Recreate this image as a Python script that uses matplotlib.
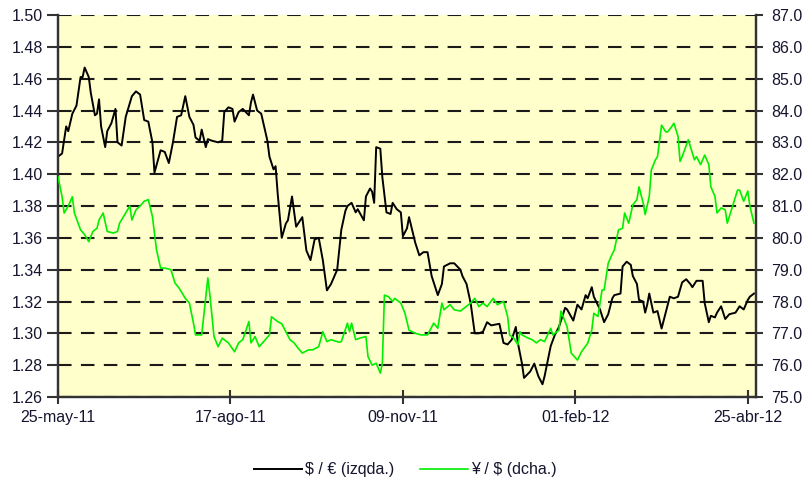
import numpy as np
import matplotlib
matplotlib.use("Agg")
import matplotlib.pyplot as plt
import matplotlib.dates as mdates
from matplotlib.ticker import FixedLocator, FormatStrFormatter, MultipleLocator

plt.rcParams['font.family'] = ['Liberation Sans', 'DejaVu Sans']

# $ / EUR (left axis)
usd_eur_dates = [
    "2011-05-25", "2011-05-27", "2011-05-29", "2011-05-30", "2011-06-01", "2011-06-03", "2011-06-05",
    "2011-06-06", "2011-06-07", "2011-06-09", "2011-06-10", "2011-06-12", "2011-06-13", "2011-06-14",
    "2011-06-15", "2011-06-17", "2011-06-18", "2011-06-20", "2011-06-22", "2011-06-23", "2011-06-25",
    "2011-06-27", "2011-06-30", "2011-07-02", "2011-07-04", "2011-07-06", "2011-07-08", "2011-07-10",
    "2011-07-11", "2011-07-14", "2011-07-16", "2011-07-18", "2011-07-20", "2011-07-22", "2011-07-24",
    "2011-07-26", "2011-07-28", "2011-07-30", "2011-07-31", "2011-08-02", "2011-08-03", "2011-08-05",
    "2011-08-06", "2011-08-08", "2011-08-11", "2011-08-13", "2011-08-14", "2011-08-16", "2011-08-18",
    "2011-08-19", "2011-08-21", "2011-08-23", "2011-08-26", "2011-08-27", "2011-08-28", "2011-08-30",
    "2011-09-01", "2011-09-04", "2011-09-05", "2011-09-07", "2011-09-08", "2011-09-09", "2011-09-11",
    "2011-09-13", "2011-09-14", "2011-09-16", "2011-09-18", "2011-09-21", "2011-09-23", "2011-09-25",
    "2011-09-27", "2011-09-29", "2011-10-01", "2011-10-03", "2011-10-05", "2011-10-08", "2011-10-10",
    "2011-10-12", "2011-10-13", "2011-10-15", "2011-10-17", "2011-10-18", "2011-10-21", "2011-10-22",
    "2011-10-24", "2011-10-25", "2011-10-26", "2011-10-27", "2011-10-29", "2011-10-30", "2011-11-01",
    "2011-11-03", "2011-11-04", "2011-11-06", "2011-11-08", "2011-11-09", "2011-11-11", "2011-11-12",
    "2011-11-15", "2011-11-17", "2011-11-19", "2011-11-21", "2011-11-23", "2011-11-26", "2011-11-28",
    "2011-11-29", "2011-12-02", "2011-12-04", "2011-12-07", "2011-12-08", "2011-12-10", "2011-12-12",
    "2011-12-14", "2011-12-16", "2011-12-18", "2011-12-20", "2011-12-22", "2011-12-26", "2011-12-28",
    "2011-12-30", "2012-01-01", "2012-01-03", "2012-01-04", "2012-01-06", "2012-01-07", "2012-01-10",
    "2012-01-12", "2012-01-14", "2012-01-16", "2012-01-17", "2012-01-20", "2012-01-22", "2012-01-24",
    "2012-01-27", "2012-01-28", "2012-01-31", "2012-02-02", "2012-02-04", "2012-02-06", "2012-02-07",
    "2012-02-09", "2012-02-10", "2012-02-13", "2012-02-15", "2012-02-17", "2012-02-19", "2012-02-20",
    "2012-02-23", "2012-02-24", "2012-02-26", "2012-02-28", "2012-02-29", "2012-03-02", "2012-03-03",
    "2012-03-05", "2012-03-06", "2012-03-07", "2012-03-08", "2012-03-10", "2012-03-12", "2012-03-14",
    "2012-03-16", "2012-03-18", "2012-03-20", "2012-03-22", "2012-03-24", "2012-03-26", "2012-03-28",
    "2012-03-29", "2012-03-31", "2012-04-03", "2012-04-04", "2012-04-06", "2012-04-07", "2012-04-09",
    "2012-04-10", "2012-04-12", "2012-04-14", "2012-04-16", "2012-04-19", "2012-04-21", "2012-04-23",
    "2012-04-25", "2012-04-26", "2012-04-28",
]
usd_eur = [
    1.411, 1.413, 1.430, 1.427, 1.438, 1.443, 1.461,
    1.461, 1.467, 1.461, 1.451, 1.437, 1.438, 1.447,
    1.430, 1.417, 1.427, 1.432, 1.441, 1.420, 1.418,
    1.436, 1.449, 1.452, 1.450, 1.434, 1.433, 1.420,
    1.401, 1.415, 1.414, 1.407, 1.420, 1.436, 1.437,
    1.449, 1.436, 1.431, 1.423, 1.421, 1.428, 1.417,
    1.422, 1.421, 1.420, 1.421, 1.439, 1.442, 1.441,
    1.433, 1.439, 1.441, 1.437, 1.445, 1.450, 1.440,
    1.438, 1.421, 1.411, 1.403, 1.405, 1.388, 1.360,
    1.369, 1.371, 1.386, 1.367, 1.373, 1.352, 1.346,
    1.359, 1.360, 1.346, 1.327, 1.331, 1.340, 1.365,
    1.377, 1.380, 1.382, 1.376, 1.378, 1.371, 1.386,
    1.391, 1.389, 1.382, 1.417, 1.416, 1.398, 1.376,
    1.375, 1.382, 1.378, 1.376, 1.361, 1.366, 1.373,
    1.357, 1.349, 1.351, 1.351, 1.336, 1.324, 1.331,
    1.342, 1.344, 1.344, 1.340, 1.336, 1.331, 1.319,
    1.300, 1.300, 1.301, 1.307, 1.305, 1.306, 1.294,
    1.293, 1.296, 1.304, 1.294, 1.281, 1.272, 1.276,
    1.281, 1.273, 1.268, 1.273, 1.292, 1.299, 1.304,
    1.316, 1.315, 1.308, 1.318, 1.315, 1.324, 1.322,
    1.329, 1.323, 1.315, 1.307, 1.312, 1.322, 1.324,
    1.325, 1.342, 1.345, 1.343, 1.336, 1.331, 1.321,
    1.320, 1.313, 1.318, 1.325, 1.313, 1.314, 1.303,
    1.313, 1.323, 1.322, 1.323, 1.332, 1.334, 1.331,
    1.329, 1.333, 1.333, 1.319, 1.307, 1.311, 1.310,
    1.313, 1.317, 1.309, 1.312, 1.313, 1.317, 1.315,
    1.321, 1.323, 1.325,
]

# JPY / $ (right axis)
jpy_usd_dates = [
    "2011-05-25", "2011-05-27", "2011-05-28", "2011-05-30", "2011-06-01", "2011-06-02", "2011-06-05",
    "2011-06-07", "2011-06-09", "2011-06-11", "2011-06-13", "2011-06-14", "2011-06-16", "2011-06-18",
    "2011-06-21", "2011-06-23", "2011-06-24", "2011-06-27", "2011-06-29", "2011-06-30", "2011-07-02",
    "2011-07-04", "2011-07-06", "2011-07-08", "2011-07-10", "2011-07-12", "2011-07-14", "2011-07-16",
    "2011-07-19", "2011-07-21", "2011-07-23", "2011-07-26", "2011-07-28", "2011-07-30", "2011-07-31",
    "2011-08-03", "2011-08-06", "2011-08-07", "2011-08-09", "2011-08-11", "2011-08-13", "2011-08-16",
    "2011-08-19", "2011-08-21", "2011-08-23", "2011-08-26", "2011-08-27", "2011-08-29", "2011-08-31",
    "2011-09-03", "2011-09-05", "2011-09-06", "2011-09-09", "2011-09-11", "2011-09-13", "2011-09-15",
    "2011-09-17", "2011-09-19", "2011-09-21", "2011-09-24", "2011-09-26", "2011-09-29", "2011-10-01",
    "2011-10-03", "2011-10-05", "2011-10-09", "2011-10-10", "2011-10-13", "2011-10-14", "2011-10-15",
    "2011-10-17", "2011-10-19", "2011-10-22", "2011-10-23", "2011-10-25", "2011-10-27", "2011-10-29",
    "2011-10-30", "2011-10-31", "2011-11-02", "2011-11-04", "2011-11-05", "2011-11-08", "2011-11-10",
    "2011-11-12", "2011-11-15", "2011-11-18", "2011-11-21", "2011-11-24", "2011-11-26", "2011-11-28",
    "2011-11-29", "2011-12-02", "2011-12-04", "2011-12-07", "2011-12-09", "2011-12-12", "2011-12-14",
    "2011-12-16", "2011-12-18", "2011-12-20", "2011-12-23", "2011-12-25", "2011-12-28", "2011-12-30",
    "2011-12-31", "2012-01-02", "2012-01-04", "2012-01-05", "2012-01-06", "2012-01-09", "2012-01-11",
    "2012-01-13", "2012-01-15", "2012-01-17", "2012-01-20", "2012-01-21", "2012-01-24", "2012-01-25",
    "2012-01-28", "2012-01-30", "2012-02-02", "2012-02-04", "2012-02-07", "2012-02-09", "2012-02-10",
    "2012-02-12", "2012-02-14", "2012-02-15", "2012-02-17", "2012-02-19", "2012-02-20", "2012-02-22",
    "2012-02-24", "2012-02-25", "2012-02-27", "2012-02-29", "2012-03-02", "2012-03-03", "2012-03-05",
    "2012-03-06", "2012-03-08", "2012-03-09", "2012-03-11", "2012-03-12", "2012-03-14", "2012-03-16",
    "2012-03-17", "2012-03-19", "2012-03-20", "2012-03-22", "2012-03-23", "2012-03-24", "2012-03-27",
    "2012-03-28", "2012-03-30", "2012-03-31", "2012-04-02", "2012-04-04", "2012-04-06", "2012-04-07",
    "2012-04-09", "2012-04-10", "2012-04-12", "2012-04-14", "2012-04-15", "2012-04-17", "2012-04-20",
    "2012-04-21", "2012-04-23", "2012-04-25", "2012-04-26", "2012-04-28",
]
jpy_usd = [
    81.92, 81.29, 80.78, 81.00, 81.29, 80.78, 80.25,
    80.10, 79.88, 80.20, 80.30, 80.56, 80.78, 80.20,
    80.15, 80.20, 80.46, 80.78, 81.00, 80.56, 80.88,
    81.00, 81.15, 81.20, 80.67, 79.62, 79.05, 79.05,
    79.00, 78.58, 78.42, 78.10, 77.95, 77.32, 76.95,
    76.95, 78.74, 78.20, 76.90, 76.58, 76.85, 76.70,
    76.42, 76.70, 76.80, 77.37, 76.70, 76.90, 76.58,
    76.80, 76.95, 77.52, 77.37, 77.30, 77.05, 76.80,
    76.70, 76.53, 76.38, 76.48, 76.48, 76.58, 77.05,
    76.74, 76.80, 76.72, 76.74, 77.32, 77.05, 77.32,
    76.80, 76.85, 76.90, 76.27, 76.00, 76.06, 75.75,
    76.06, 78.20, 78.15, 78.00, 78.10, 77.95, 77.63,
    77.10, 77.00, 76.95, 76.95, 77.32, 77.16, 77.95,
    77.74, 77.90, 77.74, 77.70, 77.80, 77.95, 78.10,
    77.84, 77.95, 77.84, 78.10, 77.90, 78.00, 77.53,
    76.95, 76.85, 76.64, 77.05, 76.95, 76.85, 76.80,
    76.70, 76.80, 76.74, 77.16, 76.95, 77.10, 77.70,
    77.20, 76.38, 76.16, 76.42, 76.69, 77.10, 77.63,
    77.53, 78.36, 78.36, 79.20, 79.50, 79.62, 80.25,
    80.30, 80.78, 80.46, 81.04, 81.20, 81.60, 81.10,
    80.73, 81.30, 82.13, 82.45, 82.55, 83.54, 83.33,
    83.33, 83.50, 83.60, 83.19, 82.40, 82.55, 83.08,
    82.87, 82.45, 82.55, 82.30, 82.60, 82.30, 81.60,
    81.30, 80.78, 80.94, 80.88, 80.46, 80.88, 81.50,
    81.50, 81.15, 81.47, 81.00, 80.46,
]

tick_dates = ["2011-05-25", "2011-08-17", "2011-11-09", "2012-02-01", "2012-04-25"]
tick_labels = ["25-may-11", "17-ago-11", "09-nov-11", "01-feb-12", "25-abr-12"]

text_color = "#15152e"

fig = plt.figure(figsize=(8.03, 4.87), dpi=100)
ax = fig.add_axes([0.0722, 0.1848, 0.8693, 0.7844])
ax.set_facecolor("#FFFFCC")

x1 = mdates.date2num(np.array(usd_eur_dates, dtype="datetime64[D]"))
x2 = mdates.date2num(np.array(jpy_usd_dates, dtype="datetime64[D]"))

ax.plot(x1, usd_eur, color="black", lw=1.4, label="\\$ / € (izqda.)", zorder=3)
ax.set_ylim(1.26, 1.50)
ax.yaxis.set_major_locator(MultipleLocator(0.02))
ax.yaxis.set_major_formatter(FormatStrFormatter("%.2f"))
ax.set_xlim(mdates.date2num(np.datetime64("2011-05-25")), mdates.date2num(np.datetime64("2012-04-29")))
ax.xaxis.set_major_locator(FixedLocator(mdates.date2num(np.array(tick_dates, dtype="datetime64[D]"))))
ax.set_xticklabels(tick_labels)
ax.grid(axis="y", color="#1a1a1a", lw=1.5, linestyle=(0, (6.5, 4.5)))
ax.set_axisbelow(True)

ax2 = ax.twinx()
ax2.plot(x2, jpy_usd, color="#00ee00", lw=1.2, label="¥ / \\$ (dcha.)", zorder=3)
ax2.set_ylim(75, 87)
ax2.yaxis.set_major_locator(MultipleLocator(1))
ax2.yaxis.set_major_formatter(FormatStrFormatter("%.1f"))

for a in (ax, ax2):
    a.spines["top"].set_visible(False)
    for s in ("left", "right", "bottom"):
        a.spines[s].set_color("#333333")
        a.spines[s].set_linewidth(1.6)

ax.tick_params(axis="y", direction="out", length=8, width=1.5, color="#333333",
               labelsize=11.5, labelcolor=text_color, pad=3)
ax.tick_params(axis="x", direction="inout", length=10, width=1.5, color="#333333",
               labelsize=11.5, labelcolor=text_color, pad=4)
ax2.tick_params(axis="y", direction="out", length=5, width=1.5, color="#333333",
                labelsize=11.5, labelcolor=text_color, pad=6)

h1, l1 = ax.get_legend_handles_labels()
h2, l2 = ax2.get_legend_handles_labels()
fig.legend(h1 + h2, l1 + l2, loc="center", bbox_to_anchor=(0.505, 0.035), ncol=2,
           frameon=False, fontsize=11.5, handlelength=3.0, handletextpad=0.2,
           columnspacing=1.6, labelcolor=text_color)

fig.savefig("out.png", dpi=100)
